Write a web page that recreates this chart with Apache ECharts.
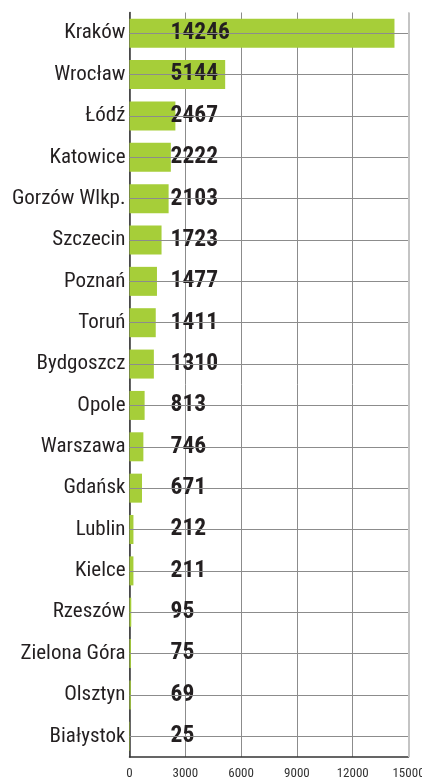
<!DOCTYPE html>
<html>
<head>
<meta charset="utf-8">
<script src="https://cdn.jsdelivr.net/npm/echarts@6/dist/echarts.min.js"></script>
<style>
  html, body { margin: 0; padding: 0; background: #fff; }
  #main { width: 422px; height: 777px; }
</style>
</head>
<body>
<div id="main"></div>
<script>
  // miasta i wartosci (od gory)
  var cities = ['Kraków', 'Wrocław', 'Łódź', 'Katowice', 'Gorzów Wlkp.', 'Szczecin', 'Poznań', 'Toruń',
    'Bydgoszcz', 'Opole', 'Warszawa', 'Gdańsk', 'Lublin', 'Kielce', 'Rzeszów', 'Zielona Góra', 'Olsztyn', 'Białystok'];
  var values = [14246, 5144, 2467, 2222, 2103, 1723, 1477, 1411, 1310, 813, 746, 671, 212, 211, 95, 75, 69, 25];
  var xTicks = [0, 3000, 6000, 9000, 12000, 15000];

  var fontCond = "'Roboto Condensed', 'Liberation Sans Narrow', 'DejaVu Sans Condensed', Roboto, sans-serif";
  var dark = '#231f20';

  // poziome linie na srodku kazdej kategorii
  var rowLines = [];
  for (var i = 0; i < cities.length; i++) {
    rowLines.push({ yAxis: cities[i] });
  }

  var chart = echarts.init(document.getElementById('main'), null, { renderer: 'canvas' });
  chart.setOption({
    animation: false,
    grid: {
      left: 129.5,
      right: 13.5,
      top: 12.5,
      bottom: 20,
      containLabel: false,
      outerBoundsMode: 'none'
    },
    xAxis: {
      type: 'value',
      min: xTicks[0],
      max: xTicks[xTicks.length - 1],
      interval: xTicks[1] - xTicks[0],
      axisLine: { show: true, lineStyle: { color: '#333', width: 1.5 } },
      axisTick: { show: false },
      axisLabel: {
        color: '#333',
        fontSize: 13,
        margin: 10,
        fontFamily: fontCond,
        showMaxLabel: true,
        showMinLabel: true,
        formatter: function (v) { return String(v); }
      },
      splitLine: {
        show: true,
        lineStyle: { color: ['#8c8c8c', '#8c8c8c', '#8c8c8c', '#8c8c8c', '#8c8c8c', '#c4c4c4'], width: 1 }
      }
    },
    yAxis: {
      type: 'category',
      data: cities,
      inverse: true,
      axisLine: { show: true, lineStyle: { color: '#333', width: 1.5 } },
      axisTick: { show: false },
      splitLine: { show: false },
      axisLabel: {
        color: dark,
        fontSize: 21,
        margin: 4,
        fontFamily: fontCond
      }
    },
    series: [
      {
        // tylko linie siatki
        type: 'line',
        data: [],
        z: 1,
        silent: true,
        markLine: {
          silent: true,
          symbol: 'none',
          label: { show: false },
          lineStyle: { color: '#8c8c8c', width: 1, type: 'solid' },
          data: rowLines.concat([{ xAxis: xTicks[xTicks.length - 1], lineStyle: { color: '#c4c4c4', width: 2 } }])
        }
      },
      {
        type: 'bar',
        data: values,
        barWidth: 29,
        z: 2,
        itemStyle: { color: '#a6ce39' },
        label: {
          show: true,
          position: [41, '50%'],
          verticalAlign: 'middle',
          align: 'left',
          color: dark,
          fontSize: 23.5,
          fontWeight: 'bold',
          fontFamily: fontCond
        }
      }
    ]
  });
</script>
</body>
</html>
